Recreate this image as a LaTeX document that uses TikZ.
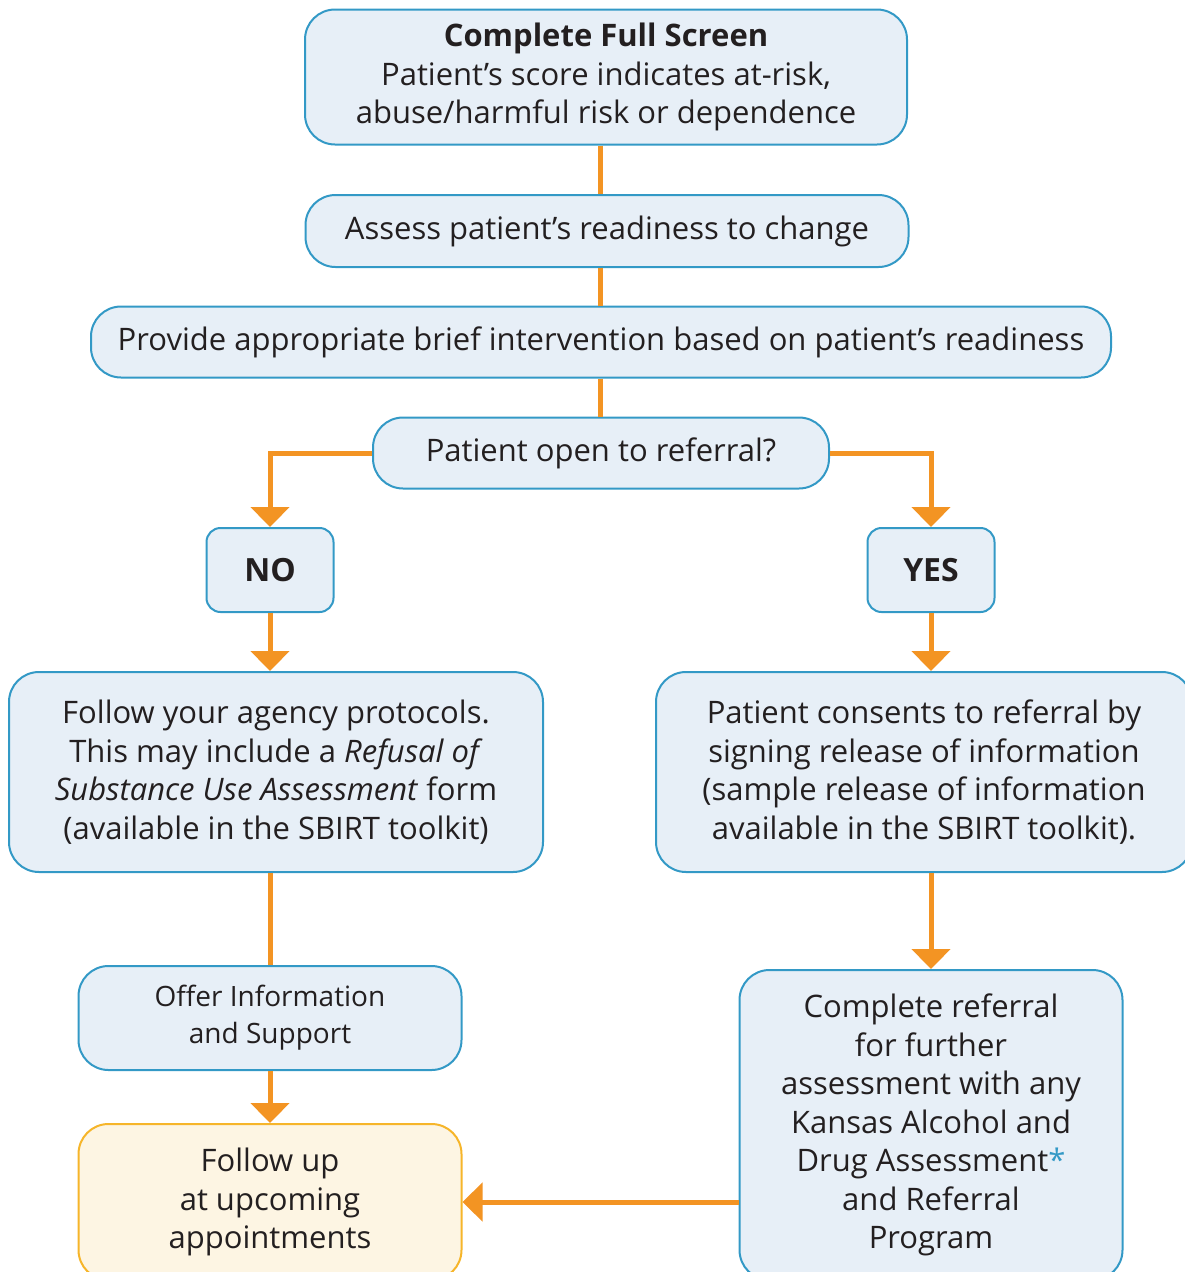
\documentclass[tikz,border=0pt]{standalone}
\usepackage{fontspec}
\setmainfont{Open Sans}
\usetikzlibrary{arrows.meta}
\definecolor{boxblue}{HTML}{3399C6}
\definecolor{boxfill}{HTML}{E7EFF7}
\definecolor{flow}{HTML}{F39423}
\definecolor{noteline}{HTML}{F6B52A}
\definecolor{notefill}{HTML}{FDF5E3}
\definecolor{ink}{HTML}{231F20}

\begin{document}
\begin{tikzpicture}[x=1pt,y=-1pt,
    stepbox/.style={draw=boxblue,fill=boxfill,line width=2pt,rounded corners=30pt,
        align=center,text=ink,font=\fontsize{31}{38.5}\selectfont,inner sep=0pt},
    answer/.style={stepbox,rounded corners=14pt,font=\fontsize{32}{34}\selectfont\bfseries},
    note/.style={stepbox,draw=noteline,fill=notefill},
    conn/.style={draw=flow,line width=5pt},
    arr/.style={conn,-{Triangle[width=38pt,length=20pt]}}]
                \useasboundingbox (0,0) rectangle (1185,1272);

                % 上部流程
                \node[stepbox,minimum width=602pt,minimum height=135pt] (top) at (606,77)
                    {\textbf{Complete Full Screen}\\Patient’s score indicates at-risk,\\abuse/harmful risk or dependence};
                \node[stepbox,minimum width=603pt,minimum height=72pt] (assess) at (607,231)
                    {\raisebox{-2pt}{Assess patient’s readiness to change}};
                \node[stepbox,minimum width=1020pt,minimum height=71pt] (provide) at (601,342)
                    {\raisebox{-2pt}{Provide appropriate brief intervention based on patient’s readiness}};
                \node[stepbox,minimum width=456pt,minimum height=71pt] (open) at (601,453)
                    {\raisebox{-2pt}{Patient open to referral?}};

                % 是/否
                \node[answer,minimum width=127pt,minimum height=84pt] (no) at (270,570) {\raisebox{-4pt}{NO}};
                \node[answer,minimum width=127pt,minimum height=84pt] (yes) at (931,570) {\raisebox{-4pt}{YES}};

                % 左侧分支
                \node[stepbox,minimum width=534pt,minimum height=200pt] (protocol) at (276,772)
                    {Follow your agency protocols.\\This may include a \textit{Refusal of}\\\textit{Substance Use Assessment} form\\(available in the SBIRT toolkit)};
                \node[stepbox,minimum width=383pt,minimum height=104pt,font=\fontsize{28}{37}\selectfont] (offer) at (270,1018)
                    {Offer Information\\and Support};
                \node[note,minimum width=383pt,minimum height=156pt] (followup) at (270,1202)
                    {Follow up\\at upcoming\\appointments};

                % 右侧分支
                \node[stepbox,minimum width=536pt,minimum height=200pt] (consent) at (924,772)
                    {Patient consents to referral by\\signing release of information\\(sample release of information\\available in the SBIRT toolkit).};
                \node[stepbox,minimum width=383pt,minimum height=310pt] (referral) at (931,1125)
                    {Complete referral\\for further\\assessment with any\\Kansas Alcohol and\\Drug Assessment\textcolor{boxblue}{*}\\and Referral\\Program};

                % 连线
                \foreach \a/\b in {top/assess, assess/provide, provide/open}
                    \draw[conn] (\a.south -| 600,0) -- (\b.north -| 600,0);
                \draw[arr] (open.west) -| (no.north);
                \draw[arr] (open.east) -| (yes.north);
                \draw[arr] (no) -- (no |- protocol.north);
                \draw[arr] (yes) -- (yes |- consent.north);
                \draw[conn] (protocol.south -| offer) -- (offer.north);
                \draw[arr] (offer) -- (followup);
                \draw[arr] (consent.south -| referral) -- (referral.north);
                \draw[arr] (followup.east -| referral.west) -- (followup.east);
            \end{tikzpicture}
\end{document}
